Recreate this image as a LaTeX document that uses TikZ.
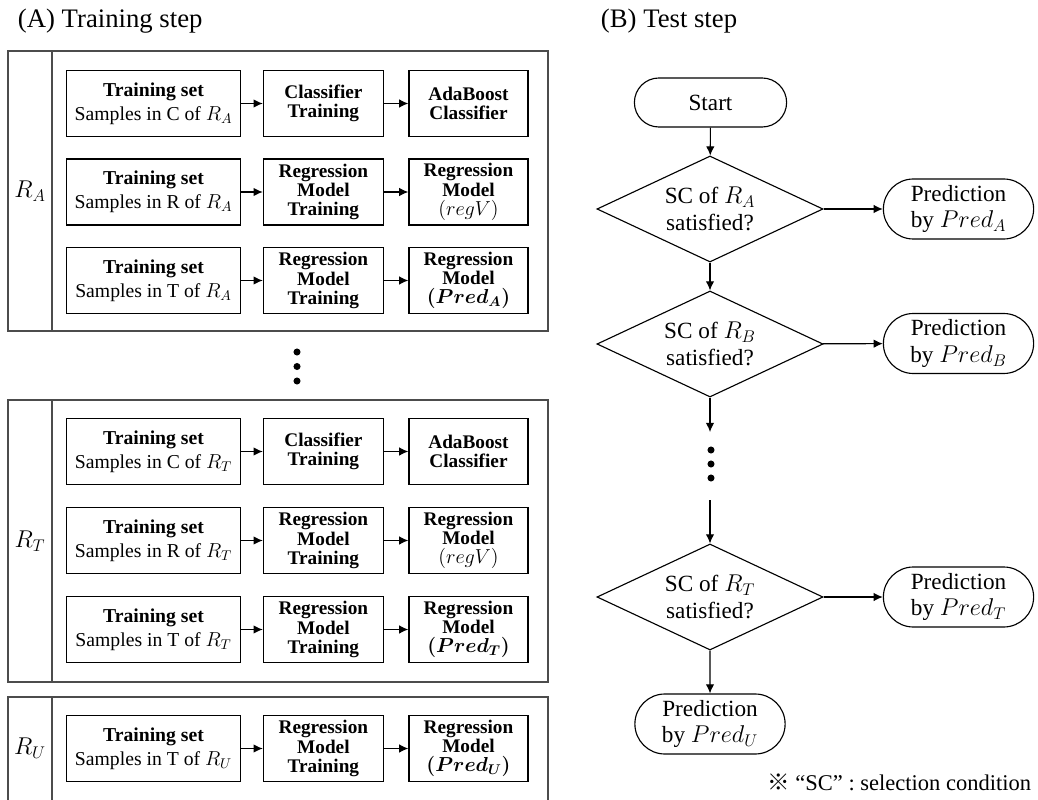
\documentclass[tikz,border=0pt]{standalone}
\usepackage{fontspec}
\setmainfont{Liberation Serif}
\newfontfamily\cjk{Noto Sans CJK SC}
\usetikzlibrary{shapes.geometric, shapes.misc, arrows.meta}

\tikzset{
  panel/.style={draw=black!70, line width=1.3pt},
  rlabel/.style={font=\fontsize{18}{20}\selectfont},
  setbox/.style={draw, line width=0.9pt, minimum width=4.35cm, minimum height=1.65cm,
    inner sep=1pt, align=center, font=\fontsize{14}{17}\selectfont},
  trainbox/.style={setbox, minimum width=3cm, font=\bfseries\fontsize{13.7}{13.7}\selectfont},
  modelbox/.style={trainbox, minimum width=2.975cm},
  arr/.style={-{Latex[length=6.5pt, width=6pt]}, line width=0.8pt},
  term/.style={draw, rounded rectangle, line width=0.8pt, inner sep=1pt, align=center,
    font=\fontsize{16.5}{19}\selectfont},
  pred/.style={term, minimum width=3.825cm, minimum height=1.5cm},
  cond/.style={draw, diamond, aspect=2.13, minimum width=5.65cm, minimum height=2.65cm,
    inner sep=0pt, line width=0.8pt, align=center, font=\fontsize{16.5}{19}\selectfont}
}

\begin{document}
\begin{tikzpicture}[x=0.025cm, y=-0.025cm]
\useasboundingbox (0,0) rectangle (1038,800);

\node[anchor=west, font=\fontsize{19}{22}\selectfont] (ttlA) at (13,21) {(A) Training step};
\node[anchor=west, font=\fontsize{19}{22}\selectfont] (ttlB) at (596,21) {(B) Test step};

% training step
\draw[panel] (8,51) rectangle (548,331) (52,51) -- (52,331);
\draw[panel] (8,400) rectangle (548,682) (52,400) -- (52,682);
\draw[panel] (8,697) rectangle (548,812) (52,697) -- (52,812);
\node[rlabel] (labA) at (30,191) {$R_A$};
\node[rlabel] (labT) at (30,541) {$R_T$};
\node[rlabel] (labU) at (30,748) {$R_U$};

\foreach \n/\y/\smp/\reg/\trn/\mdl in {
  a1/103.5/C/A/{Classifier\\Training}/{AdaBoost\\Classifier},
  a2/192/R/A/{Regression\\Model\\Training}/{Regression\\Model\\{\mdseries$(regV)$}},
  a3/280.5/T/A/{Regression\\Model\\Training}/{Regression\\Model\\{\boldmath$(Pred_A)$}},
  t1/451.5/C/T/{Classifier\\Training}/{AdaBoost\\Classifier},
  t2/540.5/R/T/{Regression\\Model\\Training}/{Regression\\Model\\{\mdseries$(regV)$}},
  t3/629.5/T/T/{Regression\\Model\\Training}/{Regression\\Model\\{\boldmath$(Pred_T)$}},
  u1/748.5/T/U/{Regression\\Model\\Training}/{Regression\\Model\\{\boldmath$(Pred_U)$}}}{
  \node[setbox] (\n-set) at (153.5,\y) {\textbf{Training set}\\Samples in \smp{} of $R_\reg$};
  \node[trainbox] (\n-trn) at (323.4,\y) {\trn};
  \node[modelbox] (\n-mdl) at (468.5,\y) {\mdl};
  \draw[arr] (\n-set) -- (\n-trn);
  \draw[arr] (\n-trn) -- (\n-mdl);
}
\foreach \d in {352,366.5,381} \fill (297,\d) circle (2.5pt);

% test step
\node[term, minimum width=3.875cm, minimum height=1.225cm] (start) at (710.5,102.5) {Start};
\node[cond] (scA) at (710,209) {SC of $R_A$\\satisfied?};
\node[pred] (pA) at (958.5,209) {Prediction\\by $Pred_A$};
\node[cond] (scB) at (710,344) {SC of $R_B$\\satisfied?};
\node[pred] (pB) at (958.5,343.5) {Prediction\\by $Pred_B$};
\coordinate (gap1) at (710,432);
\coordinate (gap2) at (710,500);
\node[cond] (scT) at (710,597) {SC of $R_T$\\satisfied?};
\node[pred] (pT) at (958.5,597) {Prediction\\by $Pred_T$};
\node[pred] (pU) at (710,724) {Prediction\\by $Pred_U$};
\node[anchor=east, font=\fontsize{16}{19}\selectfont] (note) at (1036,782)
  {{\cjk ※} “SC” : selection condition};

\draw[arr] (start) -- (scA);
\draw[arr] (scA) -- (pA);
\draw[arr] (scA) -- (scB);
\draw[arr] (scB) -- (pB);
\draw[arr] (scB) -- (gap1);
\draw[arr] (gap2) -- (scT);
\draw[arr] (scT) -- (pT);
\draw[arr] (scT) -- (pU);
\foreach \d in {450,464,478} \fill (711,\d) circle (2.5pt);
\end{tikzpicture}
\end{document}
